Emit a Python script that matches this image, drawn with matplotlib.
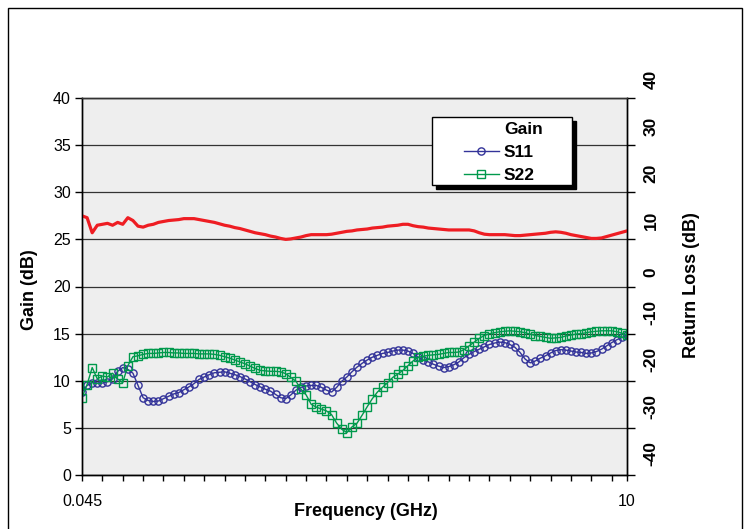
import matplotlib.pyplot as plt
import matplotlib.transforms as mtransforms
from matplotlib.lines import Line2D
from matplotlib.patches import Rectangle
import numpy as np

COLOR_GAIN = "#EE1D23"
COLOR_S11 = "#333399"
COLOR_S22 = "#00994C"
COLOR_PLOT_BG = "#EEEEEE"
COLOR_GRID = "#333333"

plt.rcParams['font.family'] = ['Liberation Sans', 'DejaVu Sans']

# Category axis: sweep points from 0.045 GHz to 10 GHz
freq_labels = ["0.045", "10"]

# Gain (dB), left axis
gain_db = [
    27.5, 27.3, 25.7, 26.5, 26.6, 26.7, 26.5, 26.8, 26.6, 27.3,
    27.0, 26.4, 26.3, 26.5, 26.6, 26.8, 26.9, 27.0, 27.05, 27.1,
    27.2, 27.2, 27.2, 27.1, 27.0, 26.9, 26.8, 26.65, 26.5, 26.4,
    26.25, 26.15, 26.0, 25.85, 25.7, 25.6, 25.5, 25.35, 25.25, 25.1,
    25.0, 25.05, 25.15, 25.25, 25.4, 25.5, 25.5, 25.5, 25.5, 25.55,
    25.65, 25.75, 25.85, 25.9, 26.0, 26.05, 26.1, 26.2, 26.25, 26.3,
    26.4, 26.45, 26.5, 26.6, 26.6, 26.45, 26.35, 26.3, 26.2, 26.15,
    26.1, 26.05, 26.0, 26.0, 26.0, 26.0, 26.0, 25.9, 25.7, 25.55,
    25.5, 25.5, 25.5, 25.5, 25.45, 25.4, 25.4, 25.45, 25.5, 25.55,
    25.6, 25.65, 25.75, 25.8, 25.75, 25.65, 25.5, 25.4, 25.3, 25.2,
    25.1, 25.1, 25.15, 25.3, 25.45, 25.6, 25.75, 25.9,
]

# Return loss (dB), right axis
s11_db = [
    -22.4, -21.0, -20.4, -20.5, -20.5, -20.2, -19.6, -18.0, -17.2, -17.6,
    -18.4, -21.0, -23.6, -24.2, -24.4, -24.3, -23.8, -23.3, -22.8, -22.5,
    -21.9, -21.3, -20.6, -19.7, -19.2, -18.7, -18.3, -18.2, -18.1, -18.4,
    -18.7, -19.1, -19.6, -20.2, -20.8, -21.3, -21.8, -22.2, -22.9, -23.6,
    -23.8, -23.0, -22.0, -21.4, -21.1, -21.0, -21.0, -21.4, -22.0, -22.4,
    -21.4, -20.1, -19.2, -18.1, -17.1, -16.3, -15.6, -15.0, -14.6, -14.2,
    -14.0, -13.7, -13.5, -13.5, -13.7, -14.2, -15.0, -15.6, -16.0, -16.5,
    -16.9, -17.2, -17.0, -16.6, -16.0, -15.1, -14.4, -13.8, -13.3, -12.8,
    -12.3, -12.0, -11.8, -11.9, -12.3, -12.9, -14.0, -15.4, -16.2, -15.8,
    -15.2, -14.7, -14.1, -13.6, -13.4, -13.5, -13.7, -13.9, -14.0, -14.2,
    -14.1, -13.8, -13.3, -12.6, -11.9, -11.3, -10.8, -10.3,
]

s22_db = [
    -23.6, -20.8, -17.2, -19.6, -19.0, -19.2, -18.4, -19.6, -20.4, -16.8,
    -14.9, -14.7, -14.4, -14.2, -14.2, -14.1, -14.0, -14.0, -14.1, -14.1,
    -14.2, -14.2, -14.2, -14.3, -14.3, -14.3, -14.4, -14.6, -14.9, -15.2,
    -15.6, -16.0, -16.4, -16.9, -17.4, -17.8, -17.9, -18.0, -18.0, -18.1,
    -18.5, -19.3, -20.1, -21.8, -23.0, -25.0, -25.6, -26.0, -26.4, -27.2,
    -29.0, -30.3, -31.0, -29.8, -29.0, -27.3, -25.5, -23.8, -22.4, -21.4,
    -20.4, -19.3, -18.6, -17.8, -16.8, -15.8, -15.0, -14.8, -14.6, -14.5,
    -14.4, -14.2, -14.0, -14.0, -13.9, -13.4, -12.6, -11.8, -11.0, -10.4,
    -10.0, -9.8, -9.6, -9.5, -9.4, -9.5, -9.6, -9.8, -10.1, -10.4,
    -10.6, -10.8, -11.0, -10.9, -10.8, -10.5, -10.3, -10.1, -10.0, -9.8,
    -9.6, -9.5, -9.4, -9.4, -9.4, -9.6, -9.9, -10.3,
]

gain_ticks = np.arange(0, 41, 5)
rl_ticks = np.arange(-40, 41, 10)

W, H = 750, 529


def fpx(x, y):
    # figure pixel (from top-left) -> figure fraction
    return x / W, 1 - y / H


x = np.arange(len(gain_db))

fig = plt.figure(figsize=(7.5, 5.29), dpi=100)
ax = fig.add_axes([82 / W, 1 - 475 / H, 545 / W, 377 / H])
ax.set_facecolor(COLOR_PLOT_BG)
ax2 = ax.twinx()

ax.plot(x, gain_db, color=COLOR_GAIN, lw=2.3, solid_capstyle='round', zorder=3)
ax2.plot(x, s11_db, color=COLOR_S11, lw=1.0, marker='o', ms=5.2, mfc='none', mew=1.0)
ax2.plot(x, s22_db, color=COLOR_S22, lw=1.0, marker='s', ms=5.4, mfc='none', mew=1.0)

ax.set_xlim(0, len(x) - 1)
ax.set_ylim(0, 40)
ax2.set_ylim(-40, 40)

ax.set_yticks(gain_ticks)
ax.yaxis.grid(True, color=COLOR_GRID, lw=0.9)
ax.set_axisbelow(True)
ax.tick_params(axis='y', direction='out', length=5, width=1, labelsize=11.5, pad=3)

ax.set_xticks([0, len(x) - 1])
ax.set_xticklabels(freq_labels)
ax.set_xticks(np.arange(0, len(x), 4), minor=True)
ax.tick_params(axis='x', which='both', direction='out', length=4, width=1, labelsize=11.5, pad=10)

ax2.set_yticks(rl_ticks)
ax2.tick_params(axis='y', direction='out', length=6, width=1, labelright=False)

for a in (ax, ax2):
    for s in a.spines.values():
        s.set_color('black')
        s.set_linewidth(1)
    a.spines['top'].set_color(COLOR_GRID)

# right-hand tick labels: rotated, sitting just above each tick
off = mtransforms.offset_copy(ax2.get_yaxis_transform(), fig=fig, x=17.5, y=6.5, units='points')
for v in rl_ticks:
    ax2.text(1, v, f"{v}", transform=off, rotation=90, ha='center', va='bottom',
             fontsize=12.5, fontweight='bold', clip_on=False)

fig.text(*fpx(30, 290), "Gain (dB)", rotation=90, ha='center', va='center',
         fontsize=13, fontweight='bold')
fig.text(*fpx(691, 285), "Return Loss (dB)", rotation=90, ha='center', va='center',
         fontsize=13, fontweight='bold')
fig.text(*fpx(366, 511), "Frequency (GHz)", ha='center', va='center',
         fontsize=13, fontweight='bold')

# legend box with hard shadow
bx, by = fpx(432, 185)
bw, bh = 140 / W, 68 / H
ax2.add_patch(Rectangle((bx + 4 / W, by - 4 / H), bw, bh, transform=fig.transFigure,
                        fc='black', ec='black', clip_on=False, zorder=3.9))
ax2.add_patch(Rectangle((bx, by), bw, bh, transform=fig.transFigure,
                        fc='white', ec='black', lw=1, clip_on=False, zorder=4))
handles = [
    Line2D([], [], color='none'),
    Line2D([], [], color=COLOR_S11, lw=1.0, marker='o', ms=5.2, mfc='none'),
    Line2D([], [], color=COLOR_S22, lw=1.0, marker='s', ms=5.4, mfc='none'),
]
ax2.legend(handles, ["Gain", "S11", "S22"], frameon=False, loc='upper left',
           bbox_to_anchor=fpx(464, 122), bbox_transform=fig.transFigure,
           borderpad=0, borderaxespad=0, handlelength=2.0, handletextpad=0.3,
           labelspacing=0.45, prop={'size': 12.5, 'weight': 'bold'})

# outer chart border
fig.add_artist(Rectangle(fpx(8, 540), 734 / W, 532 / H, transform=fig.transFigure,
                         fill=False, ec='black', lw=1))

fig.savefig("out.png", dpi=100)
